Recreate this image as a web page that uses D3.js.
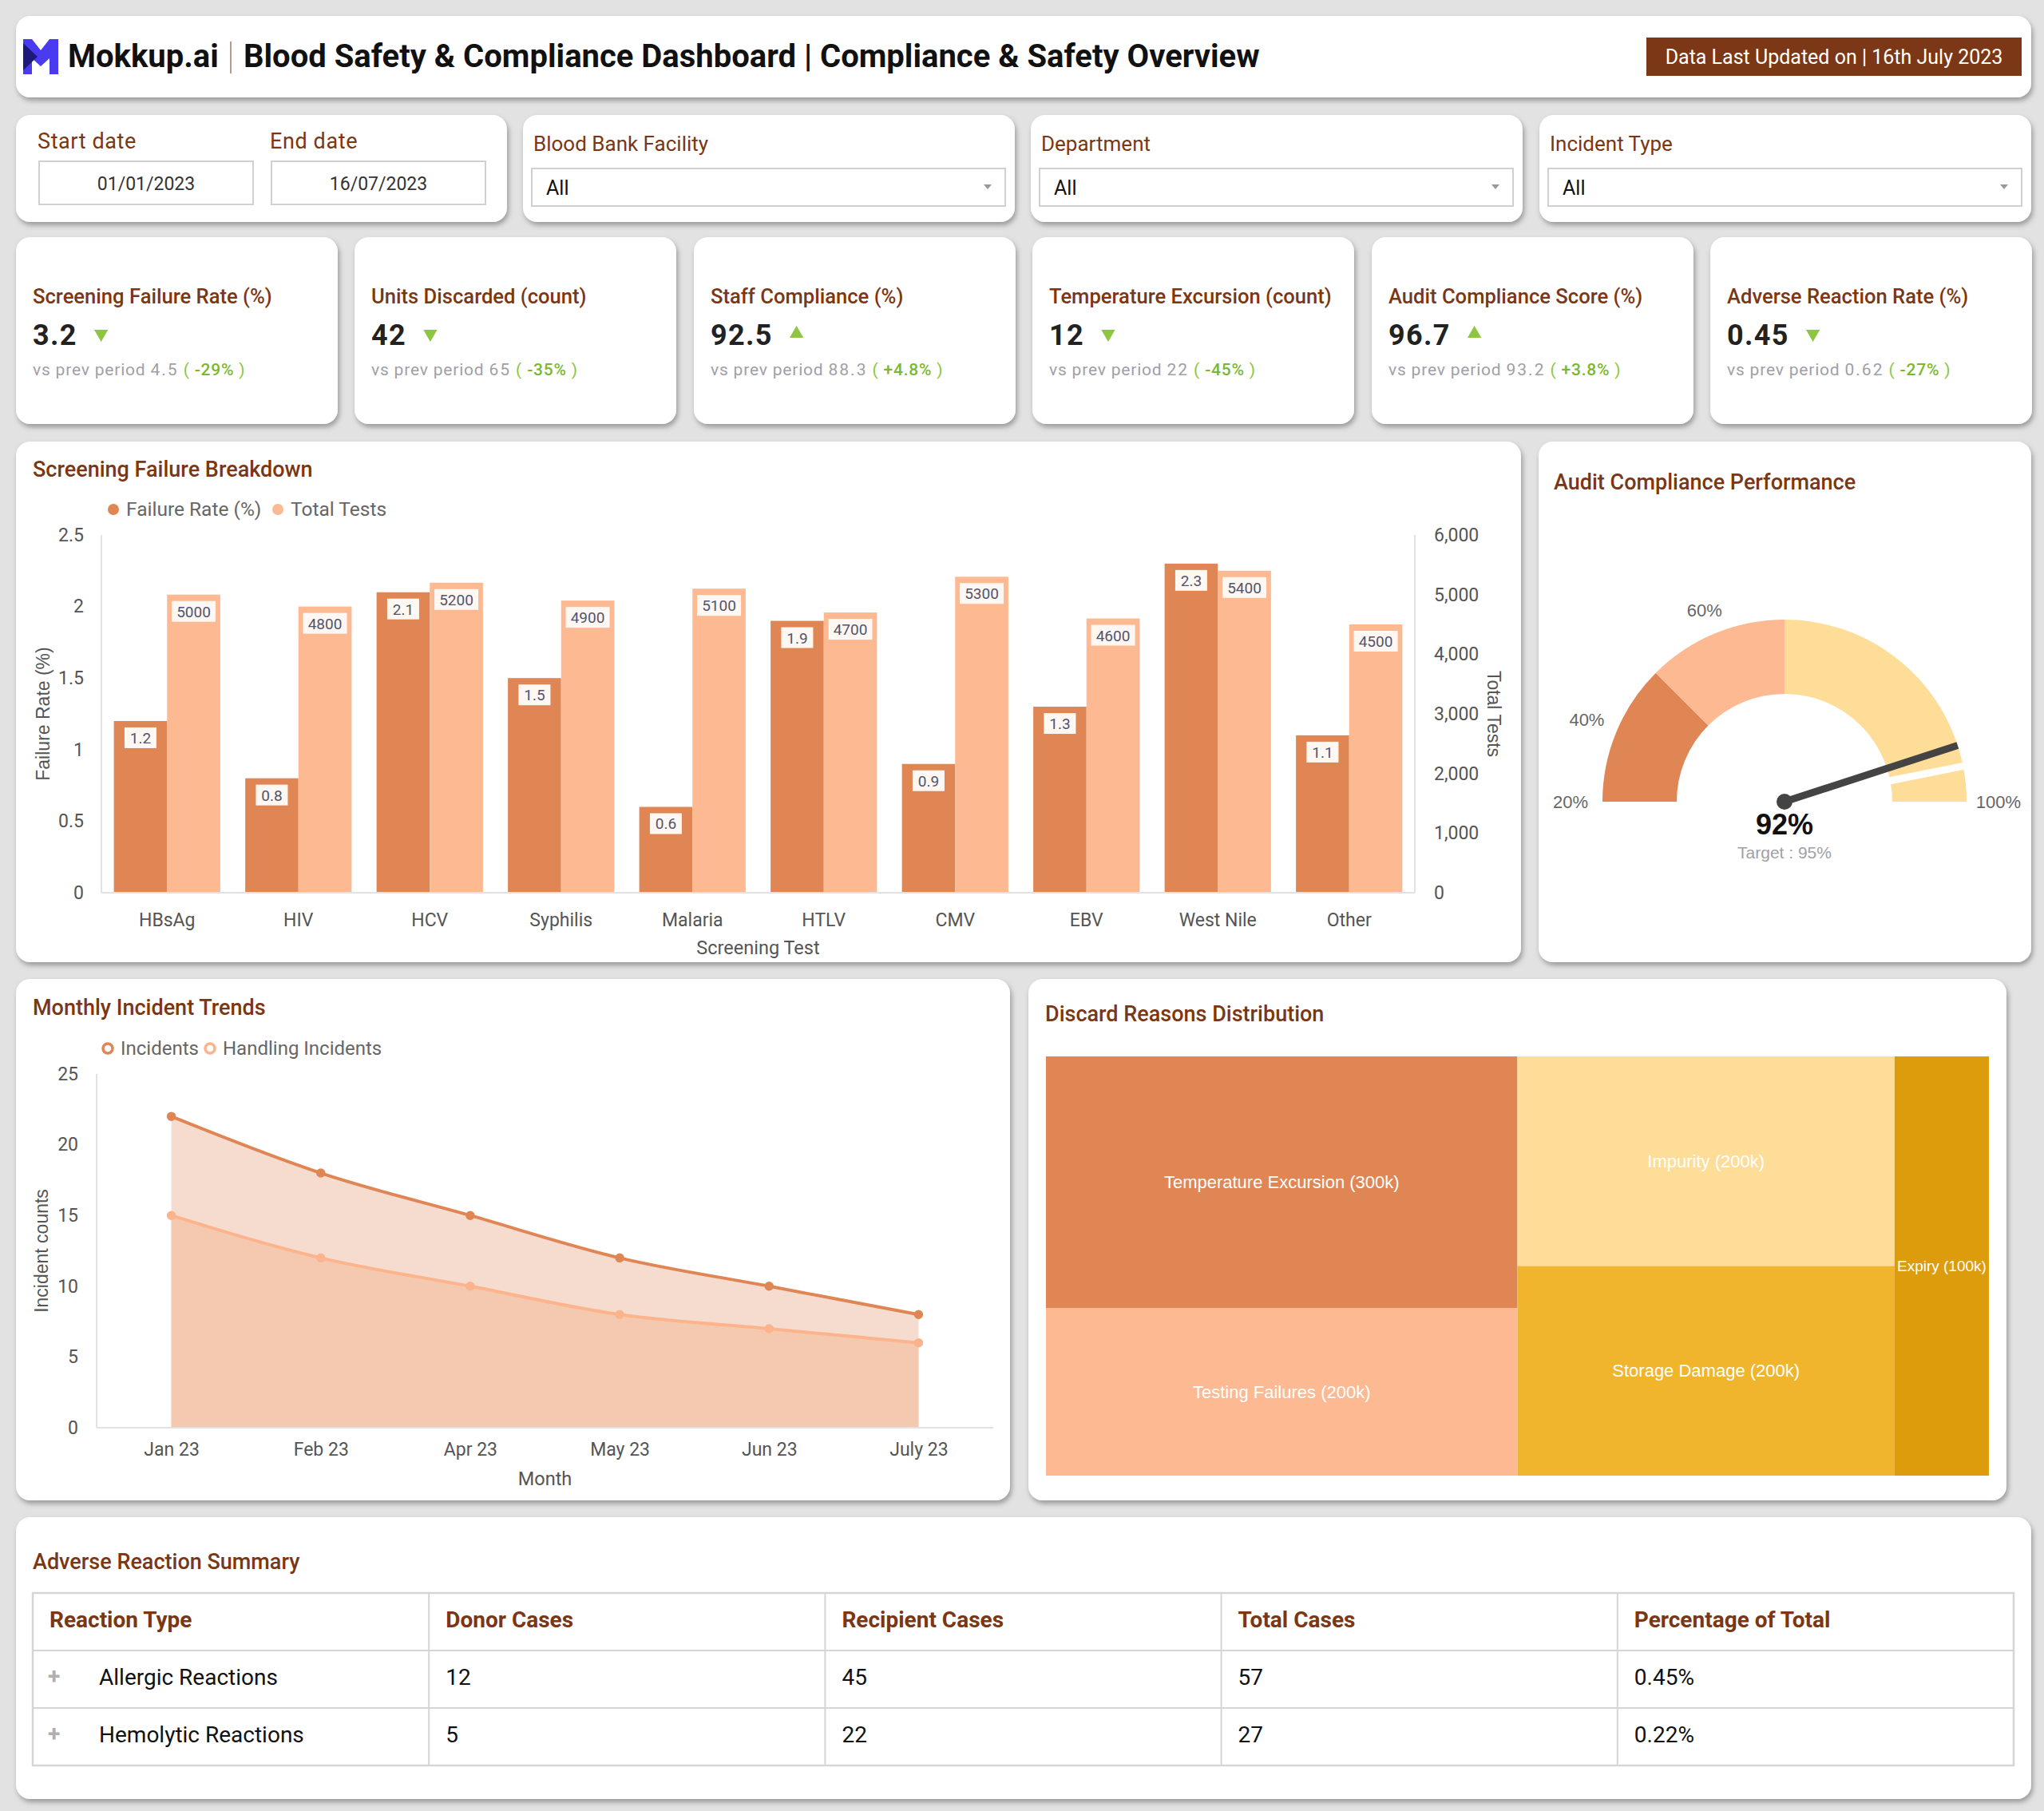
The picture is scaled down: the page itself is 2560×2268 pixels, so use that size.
<!DOCTYPE html>
<html>
<head>
<meta charset="utf-8">
<script src="https://d3js.org/d3.v7.min.js"></script>
<style>
  body { margin: 0; background: #e2e2e2; }
  svg { display: block; font-family: Roboto, sans-serif; }
</style>
</head>
<body>
<svg id="dash" width="2560" height="2268"></svg>
<script>

// ---------- data ----------
var dashTitle = "Blood Safety & Compliance Dashboard | Compliance & Safety Overview";
var updatedText = "Data Last Updated on | 16th July 2023";

var filterLabels = ["Blood Bank Facility", "Department", "Incident Type"];
var filterValues = ["All", "All", "All"];
var startDate = "01/01/2023", endDate = "16/07/2023";

var kpiTitles = ["Screening Failure Rate (%)", "Units Discarded (count)", "Staff Compliance (%)",
                 "Temperature Excursion (count)", "Audit Compliance Score (%)", "Adverse Reaction Rate (%)"];
var kpiValues = ["3.2", "42", "92.5", "12", "96.7", "0.45"];
var kpiPrev = ["4.5", "65", "88.3", "22", "93.2", "0.62"];
var kpiChange = ["-29%", "-35%", "+4.8%", "-45%", "+3.8%", "-27%"];
var kpiUp = [false, false, true, false, true, false];

var screenTests = ["HBsAg", "HIV", "HCV", "Syphilis", "Malaria", "HTLV", "CMV", "EBV", "West Nile", "Other"];
var failureRate = [1.2, 0.8, 2.1, 1.5, 0.6, 1.9, 0.9, 1.3, 2.3, 1.1];
var totalTests = [5000, 4800, 5200, 4900, 5100, 4700, 5300, 4600, 5400, 4500];

var gaugeBands = [20, 40, 60, 100];
var gaugeColors = ["#e08655", "#fdb992", "#fedd98"];
var gaugeLabels = ["20%", "40%", "60%", "100%"];
var gaugeLabelAt = [20, 30, 50, 100];
var auditActual = 92, auditTarget = 95;

var months = ["Jan 23", "Feb 23", "Apr 23", "May 23", "Jun 23", "July 23"];
var incidents = [22, 18, 15, 12, 10, 8];
var handling = [15, 12, 10, 8, 7, 6];

var discardReasons = ["Temperature Excursion", "Testing Failures", "Impurity", "Storage Damage", "Expiry"];
var discardValues = [300, 200, 200, 200, 100];
var discardGroup = [0, 0, 1, 1, 2];
var discardColors = ["#e08655", "#fdb992", "#fedd98", "#f0b52d", "#dc9c0c"];

var tableHeaders = ["Reaction Type", "Donor Cases", "Recipient Cases", "Total Cases", "Percentage of Total"];
var reactionTypes = ["Allergic Reactions", "Hemolytic Reactions"];
var donorCases = [12, 5];
var recipientCases = [45, 22];
var totalCases = [57, 27];
var pctOfTotal = ["0.45%", "0.22%"];

// ---------- setup ----------
var BROWN = "#7b3614";
var GREEN = "#8dc63f";
var svg = d3.select("#dash");

svg.append("defs").append("filter")
    .attr("id", "shadow").attr("x", "-5%").attr("y", "-5%").attr("width", "112%").attr("height", "120%")
  .append("feDropShadow")
    .attr("dx", 2).attr("dy", 4).attr("stdDeviation", 3)
    .attr("flood-color", "#000").attr("flood-opacity", 0.32);

function card(x, y, w, h) {
  svg.append("rect")
    .attr("x", x).attr("y", y).attr("width", w).attr("height", h)
    .attr("rx", 18).attr("fill", "#fff").attr("filter", "url(#shadow)");
}

function cardTitle(x, y, t) {
  svg.append("text")
    .attr("x", x).attr("y", y)
    .attr("font-size", 27).attr("font-weight", 500).attr("fill", BROWN)
    .text(t);
}

// ---------- header ----------
card(20, 20, 2524, 102);

var logo = svg.append("g");
logo.append("path").attr("d", "M29,49 L40,49 L51,63 L62,49 L73,49 L73,93 L62,93 L62,73 L51,83 L40,73 L40,93 L29,93 Z")
  .attr("fill", "#4a3af0");
logo.append("path").attr("d", "M29,54 L47,71 L29,88 Z").attr("fill", "#1d1a7a");

svg.append("text").attr("x", 85).attr("y", 84)
  .attr("font-size", 40).attr("font-weight", 700).attr("fill", "#111").text("Mokkup.ai");
svg.append("line").attr("x1", 289).attr("x2", 289).attr("y1", 52).attr("y2", 92)
  .attr("stroke", "#b89a8a").attr("stroke-width", 2);
svg.append("text").attr("x", 305).attr("y", 84)
  .attr("font-size", 40).attr("font-weight", 700).attr("fill", "#111").text(dashTitle);

svg.append("rect").attr("x", 2062).attr("y", 47).attr("width", 470).attr("height", 48).attr("fill", "#7b3716");
svg.append("text").attr("x", 2297).attr("y", 80).attr("text-anchor", "middle")
  .attr("font-size", 25).attr("fill", "#fff").text(updatedText);

// ---------- filters ----------
var filterX = [20, 655, 1291, 1928];
card(filterX[0], 144, 615, 134);
[["Start date", startDate, 47], ["End date", endDate, 338]].forEach(function (d) {
  svg.append("text").attr("x", d[2]).attr("y", 186).attr("font-size", 27).attr("letter-spacing", 0.6)
    .attr("fill", BROWN).text(d[0]);
  svg.append("rect").attr("x", d[2] + 2).attr("y", 202).attr("width", 268).attr("height", 54)
    .attr("fill", "#fff").attr("stroke", "#d0d0d0").attr("stroke-width", 2);
  svg.append("text").attr("x", d[2] + 136).attr("y", 238).attr("text-anchor", "middle")
    .attr("font-size", 23).attr("fill", "#333").text(d[1]);
});

filterLabels.forEach(function (lab, i) {
  var x = filterX[i + 1];
  card(x, 144, 616, 134);
  svg.append("text").attr("x", x + 13).attr("y", 189).attr("font-size", 26).attr("fill", BROWN).text(lab);
  svg.append("rect").attr("x", x + 11).attr("y", 211).attr("width", 593).attr("height", 47)
    .attr("fill", "#fff").attr("stroke", "#d0d0d0").attr("stroke-width", 2);
  svg.append("text").attr("x", x + 29).attr("y", 244).attr("font-size", 25).attr("fill", "#111").text(filterValues[i]);
  svg.append("path").attr("d", "M" + (x + 577) + ",231 l10,0 l-5,6 Z").attr("fill", "#999");
});

// ---------- KPI cards ----------
var kpiX = [20, 444, 869, 1293, 1718, 2142];
kpiTitles.forEach(function (t, i) {
  var x = kpiX[i];
  card(x, 297, 403, 234);
  svg.append("text").attr("x", x + 21).attr("y", 380)
    .attr("font-size", 25.6).attr("font-weight", 500).attr("fill", BROWN).text(t);
  var v = svg.append("text").attr("x", x + 21).attr("y", 432)
    .attr("font-size", 36).attr("font-weight", 700).attr("fill", "#222").attr("letter-spacing", 1.3).text(kpiValues[i]);
  var vw = v.node().getComputedTextLength();
  svg.append("path")
    .attr("d", d3.symbol(d3.symbolTriangle, 130)())
    .attr("transform", "translate(" + (x + 21 + vw + 30) + ",418) rotate(" + (kpiUp[i] ? 0 : 180) + ")")
    .attr("fill", GREEN);
  var s = svg.append("text").attr("x", x + 21).attr("y", 470).attr("font-size", 21)
    .attr("letter-spacing", 0.8).attr("fill", "#a0a0a8");
  s.append("tspan").text("vs prev period ");
  s.append("tspan").attr("letter-spacing", 2).text(kpiPrev[i]);
  s.append("tspan").attr("fill", GREEN).text("  ( ");
  s.append("tspan").attr("fill", "#7cb82f").attr("font-weight", 500).text(kpiChange[i]);
  s.append("tspan").attr("fill", GREEN).text(" )");
});

// ---------- screening failure breakdown ----------
card(20, 553, 1885, 652);
cardTitle(41, 597, "Screening Failure Breakdown");

var legend1 = [["Failure Rate (%)", "#e08655", 142], ["Total Tests", "#fdb992", 348]];
legend1.forEach(function (d) {
  svg.append("circle").attr("cx", d[2]).attr("cy", 638).attr("r", 7).attr("fill", d[1]);
  svg.append("text").attr("x", d[2] + 16).attr("y", 646).attr("font-size", 24.5).attr("fill", "#666").text(d[0]);
});

var px0 = 127, px1 = 1772, py0 = 670, py1 = 1118;
var x = d3.scaleBand().domain(screenTests).range([px0, px1]).paddingInner(0.19).paddingOuter(0.095);
var xs = d3.scaleBand().domain(["rate", "tests"]).range([0, x.bandwidth()]);
var yL = d3.scaleLinear().domain([0, 2.5]).range([py1, py0]);
var yR = d3.scaleLinear().domain([0, 6000]).range([py1, py0]);

svg.append("line").attr("x1", px0).attr("x2", px0).attr("y1", py0).attr("y2", py1).attr("stroke", "#e2e2e2").attr("stroke-width", 2);
svg.append("line").attr("x1", px1).attr("x2", px1).attr("y1", py0).attr("y2", py1).attr("stroke", "#e2e2e2").attr("stroke-width", 2);

function styleAxis(g) {
  g.select(".domain").remove();
  g.selectAll("text").attr("font-family", "Roboto, sans-serif").attr("font-size", 23).attr("fill", "#555");
}

svg.append("g").attr("transform", "translate(" + px0 + ",0)")
  .call(d3.axisLeft(yL).ticks(5).tickSize(0).tickPadding(22).tickFormat(function (d) { return d; }))
  .call(styleAxis);
svg.append("g").attr("transform", "translate(" + px1 + ",0)")
  .call(d3.axisRight(yR).ticks(6).tickSize(0).tickPadding(24).tickFormat(d3.format(",")))
  .call(styleAxis);
svg.append("g").attr("transform", "translate(0," + py1 + ")")
  .call(d3.axisBottom(x).tickSize(0).tickPadding(26))
  .call(styleAxis);

var groups = svg.append("g").selectAll("g").data(screenTests).join("g")
  .attr("transform", function (d) { return "translate(" + x(d) + ",0)"; });

groups.append("rect")
  .attr("x", xs("rate")).attr("width", xs.bandwidth())
  .attr("y", function (d, i) { return yL(failureRate[i]); })
  .attr("height", function (d, i) { return py1 - yL(failureRate[i]); })
  .attr("fill", "#e08655");
groups.append("rect")
  .attr("x", xs("tests")).attr("width", xs.bandwidth())
  .attr("y", function (d, i) { return yR(totalTests[i]); })
  .attr("height", function (d, i) { return py1 - yR(totalTests[i]); })
  .attr("fill", "#fdb992");

function barLabel(sel, key, scale, vals, w) {
  sel.append("rect")
    .attr("x", xs(key) + xs.bandwidth() / 2 - w / 2).attr("width", w)
    .attr("y", function (d, i) { return scale(vals[i]) + 8; }).attr("height", 26)
    .attr("fill", "#fff7f2");
  sel.append("text")
    .attr("x", xs(key) + xs.bandwidth() / 2)
    .attr("y", function (d, i) { return scale(vals[i]) + 28; })
    .attr("text-anchor", "middle").attr("font-size", 19).attr("fill", "#4f5570")
    .text(function (d, i) { return vals[i]; });
}
barLabel(groups, "rate", yL, failureRate, 40);
barLabel(groups, "tests", yR, totalTests, 55);

svg.append("line").attr("x1", px0).attr("x2", px1).attr("y1", py1).attr("y2", py1).attr("stroke", "#e2e2e2").attr("stroke-width", 2);

svg.append("text").attr("transform", "translate(62," + (py0 + py1) / 2 + ") rotate(-90)")
  .attr("text-anchor", "middle").attr("font-family", "Liberation Sans, Arial").attr("font-size", 23).attr("fill", "#555")
  .text("Failure Rate (%)");
svg.append("text").attr("transform", "translate(1863," + (py0 + py1) / 2 + ") rotate(90)")
  .attr("text-anchor", "middle").attr("font-family", "Liberation Sans, Arial").attr("font-size", 23).attr("fill", "#555")
  .text("Total Tests");
svg.append("text").attr("x", (px0 + px1) / 2).attr("y", 1195).attr("text-anchor", "middle")
  .attr("font-size", 23.5).attr("fill", "#555").text("Screening Test");

// ---------- audit gauge ----------
card(1927, 553, 617, 652);
cardTitle(1946, 613, "Audit Compliance Performance");

var gcx = 2235, gcy = 1004, gR = 228, gr = 135;
var gA = d3.scaleLinear().domain([20, 100]).range([-Math.PI / 2, Math.PI / 2]);
var arc = d3.arc().innerRadius(gr).outerRadius(gR);
var gauge = svg.append("g").attr("transform", "translate(" + gcx + "," + gcy + ")");

gauge.selectAll("path.band").data(gaugeColors).join("path")
  .attr("class", "band")
  .attr("d", function (c, i) { return arc({ startAngle: gA(gaugeBands[i]), endAngle: gA(gaugeBands[i + 1]) }); })
  .attr("fill", function (c) { return c; });

function polar(r, v) { var a = gA(v); return [r * Math.sin(a), -r * Math.cos(a)]; }

var t0 = polar(gr - 8, auditTarget), t1 = polar(gR + 8, auditTarget);
gauge.append("line").attr("x1", t0[0]).attr("y1", t0[1]).attr("x2", t1[0]).attr("y2", t1[1])
  .attr("stroke", "#fff").attr("stroke-width", 9);

var n1 = polar(gR, auditActual);
gauge.append("line").attr("x1", 0).attr("y1", 0).attr("x2", n1[0]).attr("y2", n1[1])
  .attr("stroke", "#444").attr("stroke-width", 9);
gauge.append("circle").attr("r", 10).attr("fill", "#444");

gauge.selectAll("text.glab").data(gaugeLabels).join("text")
  .attr("class", "glab")
  .attr("x", function (d, i) { return polar(i === 2 ? 262 : 268, gaugeLabelAt[i])[0]; })
  .attr("y", function (d, i) { return polar(i === 2 ? 260 : 268, gaugeLabelAt[i])[1]; })
  .attr("dy", "0.35em").attr("text-anchor", "middle")
  .attr("font-family", "Liberation Sans, Arial").attr("font-size", 22).attr("fill", "#666")
  .text(function (d) { return d; });

gauge.append("text").attr("y", 41).attr("text-anchor", "middle")
  .attr("font-family", "Liberation Sans, Arial").attr("font-weight", 700).attr("font-size", 36).attr("fill", "#111")
  .text(auditActual + "%");
gauge.append("text").attr("y", 71).attr("text-anchor", "middle")
  .attr("font-family", "Liberation Sans, Arial").attr("font-size", 21).attr("fill", "#a0a0a8")
  .text("Target : " + auditTarget + "%");

// ---------- monthly incident trends ----------
card(20, 1226, 1245, 653);
cardTitle(41, 1271, "Monthly Incident Trends");

var legend2 = [["Incidents", "#e08655", 135], ["Handling Incidents", "#fbb48c", 263]];
legend2.forEach(function (d) {
  svg.append("circle").attr("cx", d[2]).attr("cy", 1313).attr("r", 6).attr("fill", "#fff")
    .attr("stroke", d[1]).attr("stroke-width", 3.5);
  svg.append("text").attr("x", d[2] + 16).attr("y", 1321).attr("font-size", 24).attr("fill", "#666").text(d[0]);
});

var ix0 = 121, ix1 = 1244, iy0 = 1345, iy1 = 1788;
var xm = d3.scalePoint().domain(months).range([ix0, ix1]).padding(0.5);
var yi = d3.scaleLinear().domain([0, 25]).range([iy1, iy0]);

svg.append("line").attr("x1", ix0).attr("x2", ix0).attr("y1", iy0).attr("y2", iy1).attr("stroke", "#e2e2e2").attr("stroke-width", 2);

svg.append("g").attr("transform", "translate(" + ix0 + ",0)")
  .call(d3.axisLeft(yi).ticks(5).tickSize(0).tickPadding(23))
  .call(styleAxis);
svg.append("g").attr("transform", "translate(0," + iy1 + ")")
  .call(d3.axisBottom(xm).tickSize(0).tickPadding(19))
  .call(styleAxis);

var series = [[incidents, "#e08655", "#f6dccf"], [handling, "#fbb48c", "#f5c9af"]];
series.forEach(function (s) {
  var area = d3.area().x(function (d, i) { return xm(months[i]); })
    .y0(iy1).y1(function (d) { return yi(d); }).curve(d3.curveMonotoneX);
  svg.append("path").attr("d", area(s[0])).attr("fill", s[2]);
});
series.forEach(function (s) {
  var line = d3.line().x(function (d, i) { return xm(months[i]); })
    .y(function (d) { return yi(d); }).curve(d3.curveMonotoneX);
  svg.append("path").attr("d", line(s[0])).attr("fill", "none").attr("stroke", s[1]).attr("stroke-width", 4);
  svg.append("g").selectAll("circle").data(s[0]).join("circle")
    .attr("cx", function (d, i) { return xm(months[i]); }).attr("cy", function (d) { return yi(d); })
    .attr("r", 5).attr("fill", s[1]).attr("stroke", s[1]).attr("stroke-width", 1.5);
});

svg.append("line").attr("x1", ix0).attr("x2", ix1).attr("y1", iy1).attr("y2", iy1).attr("stroke", "#e2e2e2").attr("stroke-width", 2);

svg.append("text").attr("transform", "translate(60," + (iy0 + iy1) / 2 + ") rotate(-90)")
  .attr("text-anchor", "middle").attr("font-family", "Liberation Sans, Arial").attr("font-size", 23).attr("fill", "#555")
  .text("Incident counts");
svg.append("text").attr("x", (ix0 + ix1) / 2).attr("y", 1860).attr("text-anchor", "middle")
  .attr("font-size", 23.5).attr("fill", "#555").text("Month");

// ---------- discard reasons treemap ----------
card(1288, 1226, 1225, 653);
cardTitle(1309, 1279, "Discard Reasons Distribution");

var treeData = { name: "root", children: [0, 1, 2].map(function (g) {
  return { name: "g" + g, children: discardReasons.map(function (r, i) {
    return { name: r, value: discardValues[i], idx: i, grp: discardGroup[i] };
  }).filter(function (d) { return d.grp === g; }) };
}) };

var root = d3.hierarchy(treeData).sum(function (d) { return d.value || 0; });
d3.treemap().tile(d3.treemapSliceDice).size([1181, 525])(root);

var tm = svg.append("g").attr("transform", "translate(1310,1323)");
var leaf = tm.selectAll("g").data(root.leaves()).join("g")
  .attr("transform", function (d) { return "translate(" + d.x0 + "," + d.y0 + ")"; });
leaf.append("rect")
  .attr("width", function (d) { return d.x1 - d.x0; })
  .attr("height", function (d) { return d.y1 - d.y0; })
  .attr("fill", function (d) { return discardColors[d.data.idx]; });
leaf.append("text")
  .attr("x", function (d) { return (d.x1 - d.x0) / 2; })
  .attr("y", function (d) { return (d.y1 - d.y0) / 2; })
  .attr("dy", "0.35em").attr("text-anchor", "middle")
  .attr("font-family", "Liberation Sans, Arial")
  .attr("font-size", function (d) { return (d.x1 - d.x0) < 150 ? 19 : 22; })
  .attr("fill", "#fff")
  .text(function (d) { return d.data.name + " (" + d.data.value + "k)"; });

// ---------- adverse reaction table ----------
card(20, 1900, 2524, 353);
cardTitle(41, 1965, "Adverse Reaction Summary");

var rowsData = reactionTypes.map(function (r, i) {
  return [r, donorCases[i], recipientCases[i], totalCases[i], pctOfTotal[i]];
});
var colX = d3.scaleBand().domain(tableHeaders).range([41, 2522]);
var rowY = d3.scaleBand().domain(["head"].concat(reactionTypes)).range([1995, 2211]);

var tbl = svg.append("g");
tableHeaders.forEach(function (h) {
  tbl.append("text").attr("x", colX(h) + 21).attr("y", rowY("head") + rowY.bandwidth() / 2 + 7)
    .attr("font-size", 28).attr("font-weight", 700).attr("fill", BROWN).text(h);
});
rowsData.forEach(function (row, ri) {
  var yy = rowY(reactionTypes[ri]) + rowY.bandwidth() / 2 + 7;
  tbl.append("text").attr("x", 60).attr("y", yy - 1).attr("font-size", 28).attr("font-weight", 700)
    .attr("fill", "#b0b0b0").text("+");
  row.forEach(function (v, ci) {
    tbl.append("text").attr("x", colX(tableHeaders[ci]) + (ci === 0 ? 83 : 21)).attr("y", yy)
      .attr("font-size", 28).attr("fill", "#111").text(v);
  });
});
rowY.domain().slice(1).forEach(function (r) {
  tbl.append("line").attr("x1", 41).attr("x2", 2522).attr("y1", rowY(r)).attr("y2", rowY(r))
    .attr("stroke", "#d5d5d5").attr("stroke-width", 2);
});
tableHeaders.slice(1).forEach(function (h) {
  tbl.append("line").attr("x1", colX(h)).attr("x2", colX(h)).attr("y1", 1995).attr("y2", 2211)
    .attr("stroke", "#d5d5d5").attr("stroke-width", 2);
});
tbl.append("rect").attr("x", 41).attr("y", 1995).attr("width", 2481).attr("height", 216)
  .attr("fill", "none").attr("stroke", "#d5d5d5").attr("stroke-width", 2.5);

</script>
</body>
</html>
